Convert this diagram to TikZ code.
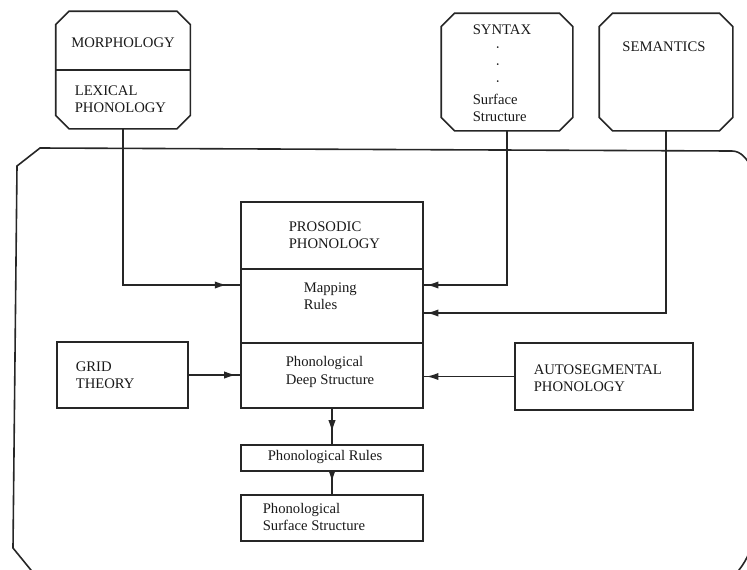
\documentclass[tikz,border=0pt]{standalone}
\usepackage{fontspec}
\setmainfont{Liberation Serif}
\usetikzlibrary{arrows.meta,decorations.markings}

\tikzset{every picture/.style={line width=1.2pt}}
\newcommand\octframe[1]{\draw [ink] ([xshift=10pt]#1.north west) -- ([xshift=-10pt]#1.north east) -- ([yshift=10pt]#1.north east) -- ([yshift=-10pt]#1.south east) -- ([xshift=-10pt]#1.south east) -- ([xshift=10pt]#1.south west) -- ([yshift=-10pt]#1.south west) -- ([yshift=10pt]#1.north west) -- cycle ;}

\begin{document}
\begin{tikzpicture}[x=0.75pt,y=0.75pt,yscale=-1,xscale=1,
	ink/.style={draw=black!85},
	octbox/.style={rectangle,inner sep=0pt},
	plainbox/.style={ink,rectangle,inner sep=0pt},
	txt/.style={font=\fontsize{11}{13}\selectfont,align=left,inner sep=0pt,text=black!90},
	tipto/.style={postaction={decorate},decoration={markings,mark=at position -#1 with {\arrow{Latex[length=9pt,width=5.5pt]}}}}]
	\useasboundingbox (0,0) rectangle (747,569);

	%Outer frame
	\draw [ink] (40,148) -- (732,151) .. controls (741,151) and (747,159) .. (752,168) -- (752,535) .. controls (752,552) and (745,563) .. (735,575) -- (35,575) -- (13,548) -- (17,166) -- cycle ;

	%Top boxes
	\node [octbox,minimum width=99.75pt,minimum height=87pt] (morph) at (123,70) {};
	\octframe{morph}
	\draw [ink] (morph.west) -- (morph.east) ;
	\node [octbox,minimum width=97.5pt,minimum height=87pt] (syntax) at (507,72) {};
	\octframe{syntax}
	\node [octbox,minimum width=99pt,minimum height=87pt] (sem) at (666,72) {};
	\octframe{sem}

	%Prosodic phonology block
	\node [plainbox,minimum width=136.5pt,minimum height=50.25pt] (pros) at (332,235.5) {};
	\node [plainbox,minimum width=136.5pt,minimum height=55.5pt] (mapping) at (332,306) {};
	\node [plainbox,minimum width=136.5pt,minimum height=48.75pt] (deep) at (332,375.5) {};
	\node [plainbox,minimum width=136.5pt,minimum height=19.5pt] (rules) at (332,458) {};
	\node [plainbox,minimum width=136.5pt,minimum height=34.5pt] (surface) at (332,518) {};

	%Side boxes
	\node [plainbox,minimum width=98.25pt,minimum height=49.5pt] (grid) at (122.5,375) {};
	\node [plainbox,minimum width=133.5pt,minimum height=50.25pt] (auto) at (604,376.5) {};

	%Connectors
	\draw [ink,tipto=10pt] (morph.south) |- ([yshift=-15.75pt]mapping.west) ;
	\draw [ink,tipto=2pt] (syntax.south) |- ([yshift=-15.75pt]mapping.east) ;
	\draw [ink,tipto=2pt] (sem.south) |- ([yshift=5.25pt]mapping.east) ;
	\draw [ink,tipto=3pt] (grid.east) -- (grid.east -| deep.west) ;
	\draw [ink,tipto=2pt] (auto.west) -- (auto.west -| deep.east) ;
	\draw [ink,tipto=9pt] (deep.south) -- (rules.north) ;
	\draw [ink,tipto=9pt] (rules.south) -- (surface.north) ;

	% Text Node
	\node [txt] (tmorph) at (123,43) {MORPHOLOGY};
	% Text Node
	\node [txt,anchor=west] (tlex) at (74,99) {LEXICAL\\PHONOLOGY};
	% Text Node
	\node [txt,anchor=west] (tsyn) at (472,73.5) {SYNTAX\\\hspace{17pt}\textperiodcentered\\\hspace{17pt}\textperiodcentered\\\hspace{17pt}\textperiodcentered\\Surface\\Structure};
	% Text Node
	\node [txt] (tsem) at (664,47) {SEMANTICS};
	% Text Node
	\node [txt,anchor=west] (tpros) at (288,235) {PROSODIC\\PHONOLOGY};
	% Text Node
	\node [txt,anchor=west] (tmap) at (303,296) {Mapping\\Rules};
	% Text Node
	\node [txt,anchor=west] (tdeep) at (285,372) {Phonological\\Deep Structure};
	% Text Node
	\node [txt] (trules) at (325,457) {Phonological Rules};
	% Text Node
	\node [txt,anchor=west] (tsurf) at (262,517) {Phonological\\Surface Structure};
	% Text Node
	\node [txt,anchor=west] (tgrid) at (75,375) {GRID\\THEORY};
	% Text Node
	\node [txt,anchor=west] (tauto) at (533,378) {AUTOSEGMENTAL\\PHONOLOGY};

\end{tikzpicture}
\end{document}
